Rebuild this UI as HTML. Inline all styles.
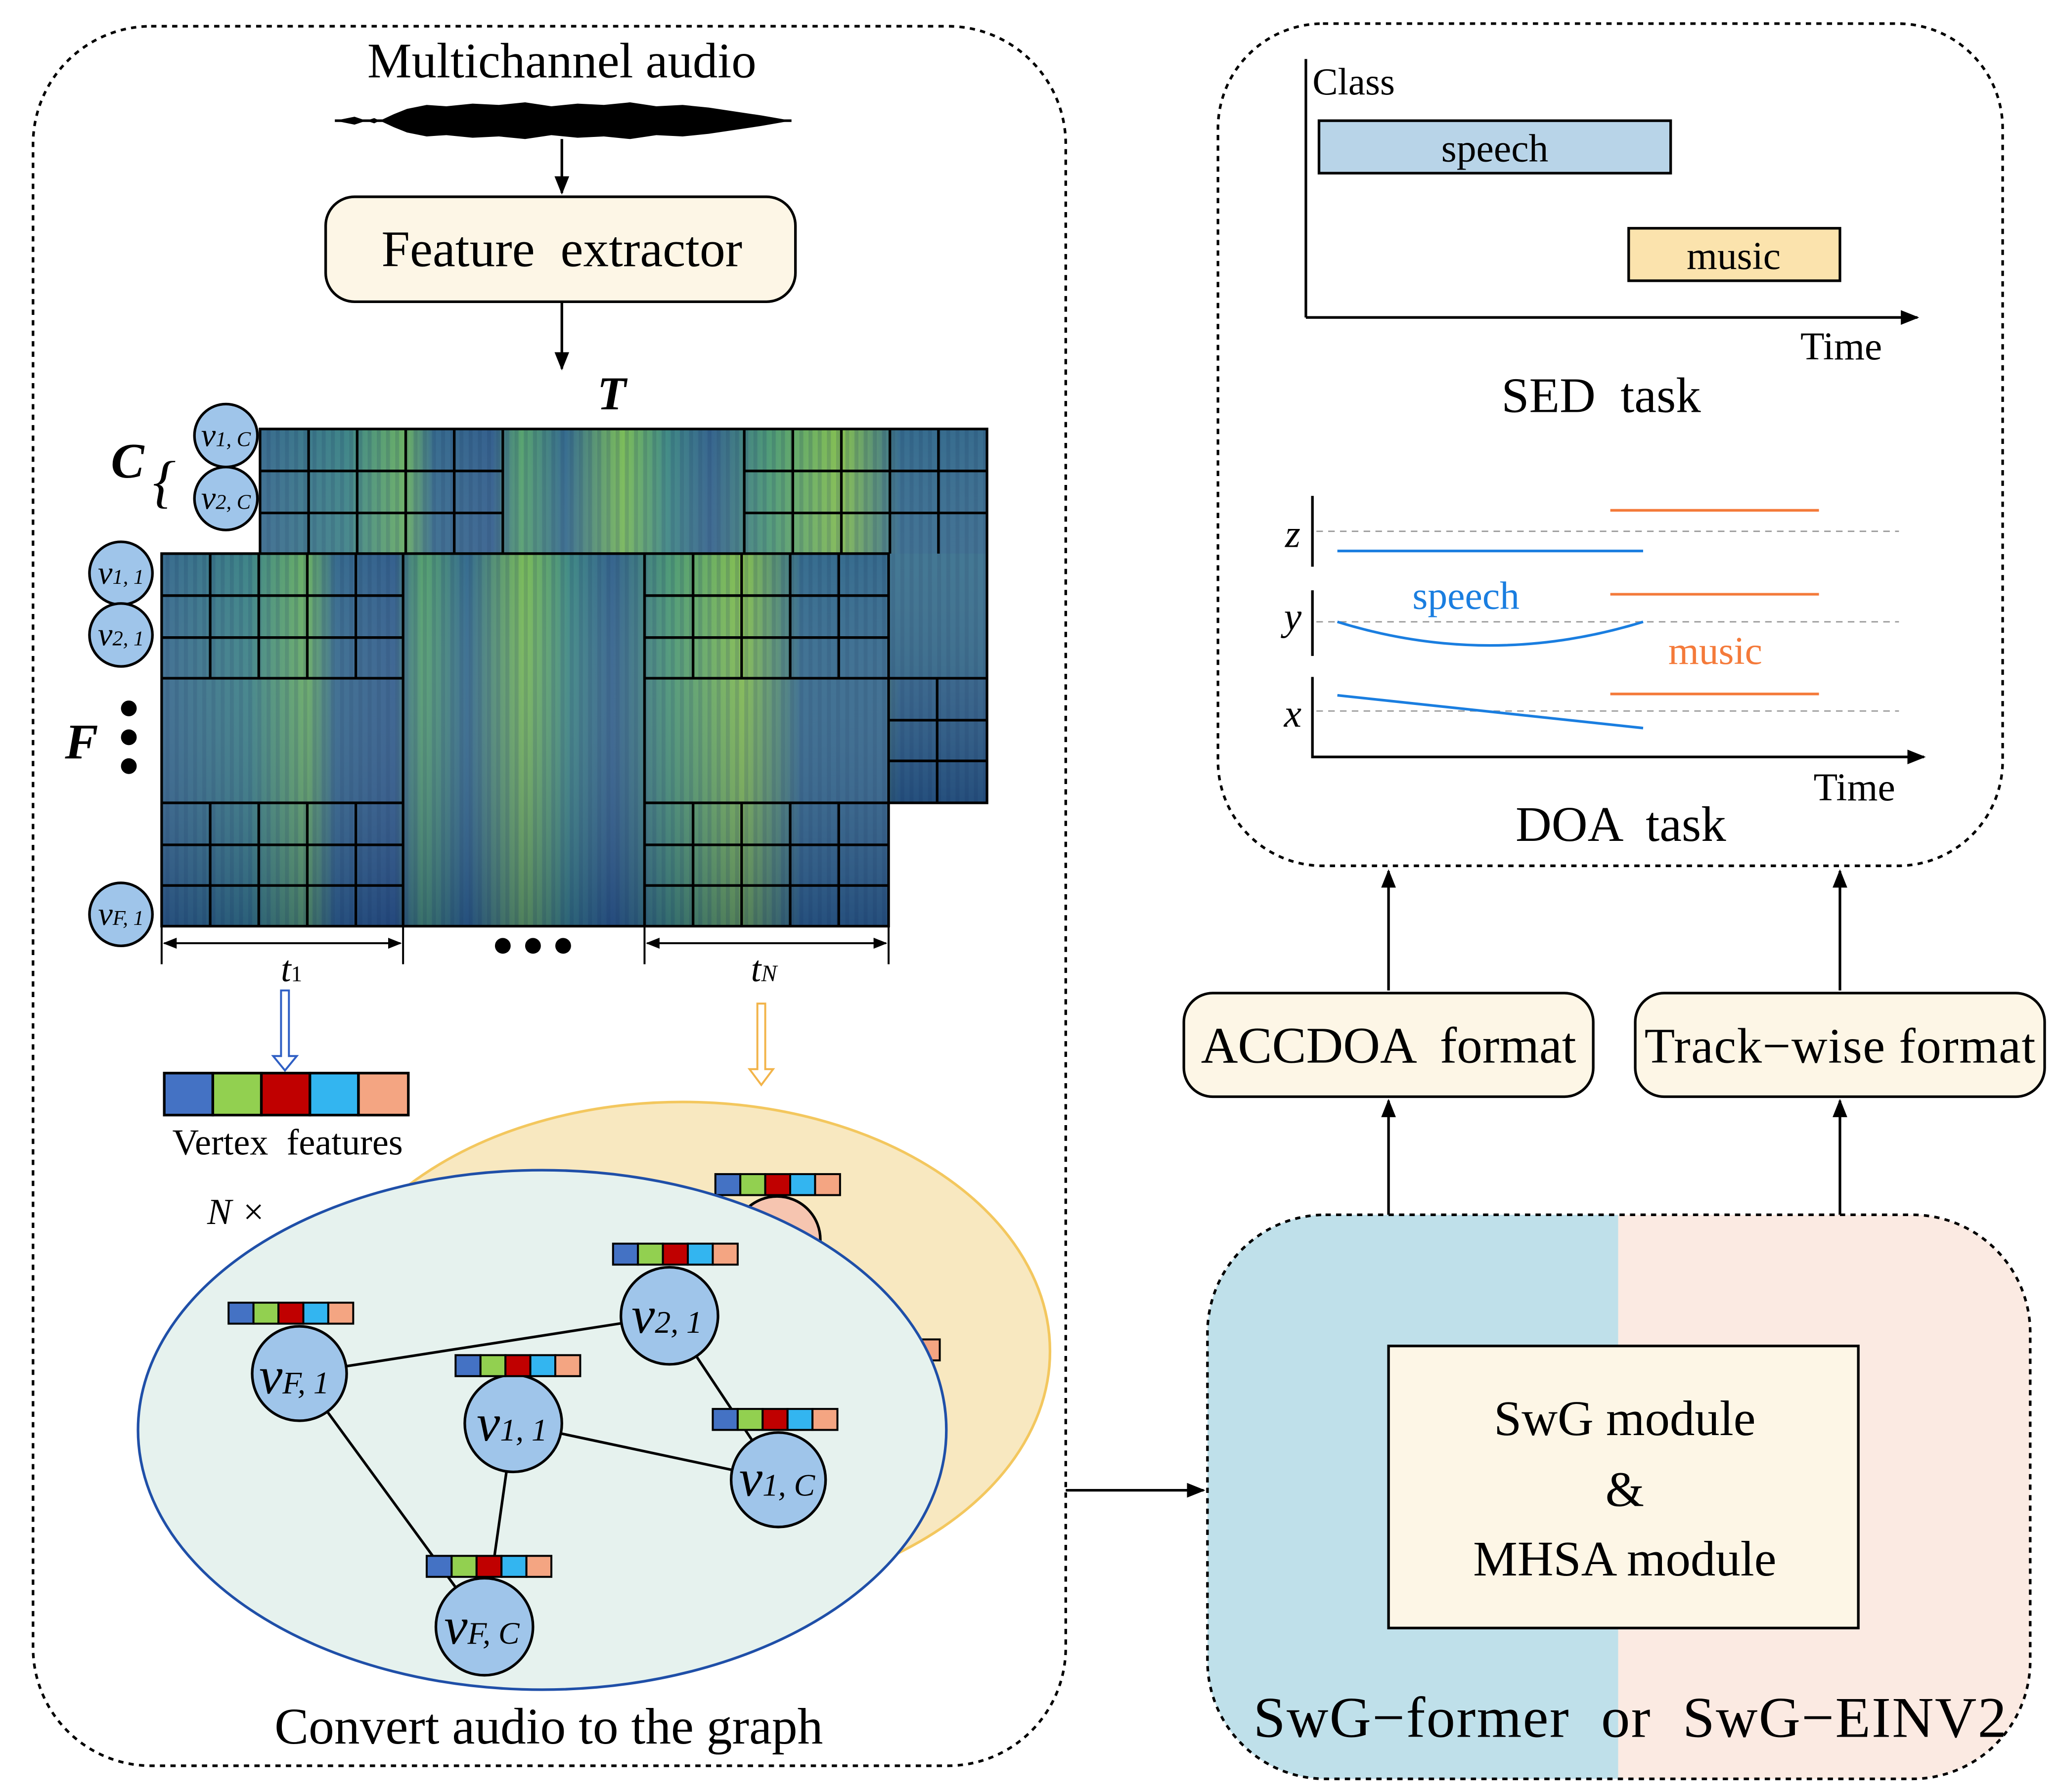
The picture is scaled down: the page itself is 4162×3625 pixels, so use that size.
<!DOCTYPE html>
<html><head><meta charset="utf-8"><style>html,body{margin:0;padding:0;background:#fff}svg{display:block}</style></head>
<body>
<svg width="4162" height="3625" viewBox="0 0 1568 1366" xmlns="http://www.w3.org/2000/svg" font-family="Liberation Serif, serif">
<defs>
<marker id="ah" viewBox="0 0 10 10" refX="9" refY="5" markerWidth="7" markerHeight="7" orient="auto-start-reverse"><path d="M0,1 L10,5 L0,9 z" fill="#000"/></marker>
<linearGradient id="spec" x1="0" x2="1" y1="0" y2="0">
<stop offset="0" stop-color="#2f6489"/><stop offset="0.12" stop-color="#357f82"/><stop offset="0.2" stop-color="#64ad5c"/><stop offset="0.24" stop-color="#2d6489"/><stop offset="0.32" stop-color="#2a5888"/><stop offset="0.36" stop-color="#4f9f68"/><stop offset="0.42" stop-color="#2b6489"/><stop offset="0.5" stop-color="#74b950"/><stop offset="0.56" stop-color="#37857f"/><stop offset="0.62" stop-color="#2b5c88"/><stop offset="0.7" stop-color="#45966f"/><stop offset="0.8" stop-color="#80bd48"/><stop offset="0.88" stop-color="#2c6589"/><stop offset="1" stop-color="#2d6488"/>
</linearGradient>
<linearGradient id="spec2" x1="0" x2="0" y1="0" y2="1">
<stop offset="0" stop-color="#fff" stop-opacity="0.05"/><stop offset="1" stop-color="#1a2f6b" stop-opacity="0.4"/>
</linearGradient>
<pattern id="stripes" width="7" height="10" patternUnits="userSpaceOnUse"><rect width="3" height="10" fill="#0d2a5a" opacity="0.18"/></pattern>
</defs>

<rect x="25" y="20" width="787" height="1326" rx="90" fill="none" stroke="#000" stroke-width="2" stroke-dasharray="4,4"/>
<text x="428" y="59" font-size="38" text-anchor="middle">Multichannel audio</text>
<path d="M255,92 L270,89 L285,94 L300,87 L310,83 L325,80 L340,81 L360,79 L380,80 L400,78 L420,81 L440,79 L460,80 L480,78 L500,81 L520,80 L540,82 L560,85 L580,88 L603,92 L580,96 L560,99 L540,102 L520,104 L500,103 L480,106 L460,104 L440,105 L420,103 L400,106 L380,104 L360,105 L340,103 L325,104 L310,101 L300,97 L285,90 L270,95 Z" fill="#000"/>
<line x1="255" y1="92" x2="603" y2="92" stroke="#000" stroke-width="2"/>
<line x1="428" y1="106" x2="428" y2="147" stroke="#000" stroke-width="2" marker-end="url(#ah)"/>
<rect x="248" y="150" width="358" height="80" rx="22" fill="#fdf6e6" stroke="#000" stroke-width="2"/>
<text x="428" y="203" font-size="39" text-anchor="middle" xml:space="preserve">Feature  extractor</text>
<line x1="428" y1="231" x2="428" y2="281" stroke="#000" stroke-width="2" marker-end="url(#ah)"/>
<text x="466" y="312" font-size="36" font-weight="bold" font-style="italic" text-anchor="middle">T</text>

<rect x="198" y="327" width="554" height="285" fill="url(#spec)"/>
<rect x="677" y="422" width="75" height="95" fill="#2e6b88"/>
<rect x="198" y="327" width="554" height="285" fill="url(#stripes)"/>
<rect x="198" y="327" width="554" height="285" fill="url(#spec2)"/>
<g stroke="#000" stroke-width="2" fill="none">
<rect x="198" y="327" width="554" height="285"/>
<path d="M198,359H383M198,391H383M567,359H752M567,391H752M235,327V422M272,327V422M309,327V422M346,327V422M383,327V422M567,327V422M604,327V422M641,327V422M678,327V422M715,327V422M677,517H752M677,549H752M677,580H752M714,517V612"/>
</g>
<rect x="123" y="422" width="554" height="284" fill="url(#spec)"/>
<rect x="123" y="422" width="554" height="284" fill="url(#stripes)"/>
<rect x="123" y="422" width="554" height="284" fill="url(#spec2)"/>
<g stroke="#000" stroke-width="2" fill="none">
<rect x="123" y="422" width="554" height="284"/>
<path d="M307,422V706M491,422V706M123,454H307M123,486H307M123,517H307M123,612H307M123,644H307M123,675H307M491,454H677M491,486H677M491,517H677M491,612H677M491,644H677M491,675H677M160,422V517M197,422V517M234,422V517M271,422V517M160,612V706M197,612V706M234,612V706M271,612V706M528,422V517M565,422V517M602,422V517M639,422V517M528,612V706M565,612V706M602,612V706M639,612V706"/>
</g>
<g fill="#9fc5ea" stroke="#000" stroke-width="2">
<circle cx="172" cy="332" r="24"/><circle cx="172" cy="380" r="24"/>
<circle cx="92" cy="437" r="24"/><circle cx="92" cy="484" r="24"/><circle cx="92" cy="697" r="24"/>
</g>
<g font-size="25" font-style="italic" text-anchor="middle">
<text x="172" y="340">v<tspan font-size="16">1, C</tspan></text>
<text x="172" y="388">v<tspan font-size="16">2, C</tspan></text>
<text x="92" y="445">v<tspan font-size="16">1, 1</tspan></text>
<text x="92" y="492">v<tspan font-size="16">2, 1</tspan></text>
<text x="92" y="705">v<tspan font-size="16">F, 1</tspan></text>
</g>
<text x="97" y="364" font-size="38" font-weight="bold" font-style="italic" text-anchor="middle">C</text>
<text x="125" y="382" font-size="44" font-style="italic" text-anchor="middle">{</text>
<text x="62" y="578" font-size="38" font-weight="bold" font-style="italic" text-anchor="middle">F</text>
<circle cx="98" cy="540" r="6"/><circle cx="98" cy="562" r="6"/><circle cx="98" cy="584" r="6"/>
<g stroke="#000" stroke-width="1.5">
<path d="M123,706V735M307,706V735M491,706V735M677,706V735"/>
<line x1="125" y1="719" x2="305" y2="719" marker-start="url(#ah)" marker-end="url(#ah)"/>
<line x1="493" y1="719" x2="675" y2="719" marker-start="url(#ah)" marker-end="url(#ah)"/>
</g>
<text x="222" y="748" font-size="28" font-style="italic" text-anchor="middle">t<tspan font-size="17" font-style="normal">1</tspan></text>
<text x="582" y="748" font-size="28" font-style="italic" text-anchor="middle">t<tspan font-size="18">N</tspan></text>
<circle cx="383" cy="721" r="6"/><circle cx="406" cy="721" r="6"/><circle cx="429" cy="721" r="6"/>
<path d="M214,755H220V805H226L217,816L208,805H214Z" fill="#fff" stroke="#2f5fc4" stroke-width="1.5"/>
<path d="M577,765H583V815H589L580,827L571,815H577Z" fill="#fff" stroke="#f2b44a" stroke-width="1.5"/>
<g stroke="#000" stroke-width="2">
<rect x="125" y="818" width="37" height="32" fill="#4472c4"/><rect x="162" y="818" width="37" height="32" fill="#92d050"/><rect x="199" y="818" width="37" height="32" fill="#c00000"/><rect x="236" y="818" width="37" height="32" fill="#33b5f0"/><rect x="273" y="818" width="38" height="32" fill="#f4a582"/>
</g>
<text x="219" y="880" font-size="28" text-anchor="middle" xml:space="preserve">Vertex  features</text>

<ellipse cx="520" cy="1030" rx="280" ry="190" fill="#f8e8c0" stroke="#f3c75e" stroke-width="2"/>
<circle cx="592" cy="945" r="33" fill="#f6c5b0" stroke="#000" stroke-width="2"/>
<g stroke="#000" stroke-width="1.5">
<rect x="545" y="895" width="19" height="16" fill="#4472c4"/><rect x="564" y="895" width="19" height="16" fill="#92d050"/><rect x="583" y="895" width="19" height="16" fill="#c00000"/><rect x="602" y="895" width="19" height="16" fill="#33b5f0"/><rect x="621" y="895" width="19" height="16" fill="#f4a582"/>
<rect x="700" y="1021" width="16" height="16" fill="#f4a582"/>
</g>
<ellipse cx="413" cy="1090" rx="308" ry="198" fill="#e6f2ee" stroke="#1f4fa8" stroke-width="2"/>
<text x="180" y="933" font-size="28" font-style="italic" text-anchor="middle">N ×</text>
<g stroke="#000" stroke-width="2">
<line x1="228" y1="1047" x2="510" y2="1003"/><line x1="228" y1="1047" x2="369" y2="1240"/>
<line x1="391" y1="1085" x2="369" y2="1240"/><line x1="391" y1="1085" x2="593" y2="1128"/>
<line x1="510" y1="1003" x2="593" y2="1128"/>
</g>
<g fill="#9fc5ea" stroke="#000" stroke-width="2">
<circle cx="228" cy="1047" r="36"/><circle cx="510" cy="1003" r="37"/><circle cx="391" cy="1085" r="37"/><circle cx="593" cy="1128" r="36"/><circle cx="369" cy="1240" r="37"/>
</g>
<g stroke="#000" stroke-width="1.5">
<g transform="translate(174,993)"><rect width="19" height="16" fill="#4472c4"/><rect x="19" width="19" height="16" fill="#92d050"/><rect x="38" width="19" height="16" fill="#c00000"/><rect x="57" width="19" height="16" fill="#33b5f0"/><rect x="76" width="19" height="16" fill="#f4a582"/></g>
<g transform="translate(467,948)"><rect width="19" height="16" fill="#4472c4"/><rect x="19" width="19" height="16" fill="#92d050"/><rect x="38" width="19" height="16" fill="#c00000"/><rect x="57" width="19" height="16" fill="#33b5f0"/><rect x="76" width="19" height="16" fill="#f4a582"/></g>
<g transform="translate(347,1033)"><rect width="19" height="16" fill="#4472c4"/><rect x="19" width="19" height="16" fill="#92d050"/><rect x="38" width="19" height="16" fill="#c00000"/><rect x="57" width="19" height="16" fill="#33b5f0"/><rect x="76" width="19" height="16" fill="#f4a582"/></g>
<g transform="translate(543,1074)"><rect width="19" height="16" fill="#4472c4"/><rect x="19" width="19" height="16" fill="#92d050"/><rect x="38" width="19" height="16" fill="#c00000"/><rect x="57" width="19" height="16" fill="#33b5f0"/><rect x="76" width="19" height="16" fill="#f4a582"/></g>
<g transform="translate(325,1186)"><rect width="19" height="16" fill="#4472c4"/><rect x="19" width="19" height="16" fill="#92d050"/><rect x="38" width="19" height="16" fill="#c00000"/><rect x="57" width="19" height="16" fill="#33b5f0"/><rect x="76" width="19" height="16" fill="#f4a582"/></g>
</g>
<g font-size="40" font-style="italic" text-anchor="middle">
<text x="224" y="1062">v<tspan font-size="24">F, 1</tspan></text>
<text x="508" y="1016">v<tspan font-size="24">2, 1</tspan></text>
<text x="390" y="1098">v<tspan font-size="24">1, 1</tspan></text>
<text x="592" y="1140">v<tspan font-size="24">1, C</tspan></text>
<text x="367" y="1253">v<tspan font-size="24">F, C</tspan></text>
</g>
<text x="418" y="1329" font-size="39" text-anchor="middle">Convert audio to the graph</text>
<line x1="812" y1="1136" x2="917" y2="1136" stroke="#000" stroke-width="2" marker-end="url(#ah)"/>

<rect x="928" y="18" width="598" height="642" rx="80" fill="none" stroke="#000" stroke-width="2" stroke-dasharray="4,4"/>
<text x="1000" y="72" font-size="29">Class</text>
<line x1="995" y1="45" x2="995" y2="242" stroke="#000" stroke-width="2"/>
<line x1="995" y1="242" x2="1461" y2="242" stroke="#000" stroke-width="2" marker-end="url(#ah)"/>
<rect x="1005" y="92" width="268" height="40" fill="#b8d4e8" stroke="#000" stroke-width="2"/>
<text x="1139" y="123" font-size="30" text-anchor="middle">speech</text>
<rect x="1241" y="174" width="161" height="40" fill="#fbe3ad" stroke="#000" stroke-width="2"/>
<text x="1321" y="205" font-size="30" text-anchor="middle">music</text>
<text x="1403" y="274" font-size="30" text-anchor="middle">Time</text>
<text x="1220" y="314" font-size="38" text-anchor="middle" xml:space="preserve">SED  task</text>

<g stroke="#000" stroke-width="2"><path d="M1000,378V432M1000,450V500M1000,516V578"/></g>
<g stroke="#999" stroke-width="1" stroke-dasharray="5,4"><path d="M1003,405H1447M1003,474H1447M1003,542H1447"/></g>
<g font-size="30" font-style="italic" text-anchor="middle"><text x="985" y="417">z</text><text x="985" y="480">y</text><text x="985" y="554">x</text></g>
<g stroke="#1a7ee0" stroke-width="2" fill="none">
<path d="M1019,420H1252"/><path d="M1019,474Q1135,510 1252,474"/><path d="M1019,530L1252,555"/>
</g>
<text x="1117" y="464" font-size="30" fill="#1a7ee0" text-anchor="middle">speech</text>
<g stroke="#f47a3a" stroke-width="2"><path d="M1227,389H1386M1227,453H1386M1227,529H1386"/></g>
<text x="1307" y="506" font-size="30" fill="#f47a3a" text-anchor="middle">music</text>
<line x1="1000" y1="577" x2="1466" y2="577" stroke="#000" stroke-width="2" marker-end="url(#ah)"/>
<text x="1413" y="610" font-size="30" text-anchor="middle">Time</text>
<text x="1235" y="641" font-size="38" text-anchor="middle" xml:space="preserve">DOA  task</text>

<g stroke="#000" stroke-width="2">
<line x1="1058" y1="755" x2="1058" y2="664" marker-end="url(#ah)"/>
<line x1="1402" y1="755" x2="1402" y2="664" marker-end="url(#ah)"/>
<line x1="1058" y1="926" x2="1058" y2="839" marker-end="url(#ah)"/>
<line x1="1402" y1="926" x2="1402" y2="839" marker-end="url(#ah)"/>
</g>
<rect x="902" y="757" width="312" height="79" rx="22" fill="#fdf6e6" stroke="#000" stroke-width="2"/>
<text x="1058" y="810" font-size="39" text-anchor="middle" xml:space="preserve">ACCDOA  format</text>
<rect x="1246" y="757" width="312" height="79" rx="22" fill="#fdf6e6" stroke="#000" stroke-width="2"/>
<text x="1402" y="810" font-size="38" text-anchor="middle" textLength="298">Track−wise format</text>

<clipPath id="bc"><rect x="920" y="926" width="627" height="430" rx="90"/></clipPath>
<g clip-path="url(#bc)"><rect x="920" y="926" width="313" height="430" fill="#bfe0ea"/><rect x="1233" y="926" width="314" height="430" fill="#fbeae2"/></g>
<rect x="920" y="926" width="627" height="430" rx="90" fill="none" stroke="#000" stroke-width="2" stroke-dasharray="4,4"/>
<rect x="1058" y="1026" width="358" height="215" fill="#fdf6e6" stroke="#000" stroke-width="2"/>
<g font-size="38" text-anchor="middle"><text x="1238" y="1094">SwG module</text><text x="1238" y="1148">&amp;</text><text x="1238" y="1201">MHSA module</text></g>
<text x="1242" y="1324" font-size="44" text-anchor="middle" textLength="574" xml:space="preserve">SwG−former  or  SwG−EINV2</text>
</svg>
</body></html>
